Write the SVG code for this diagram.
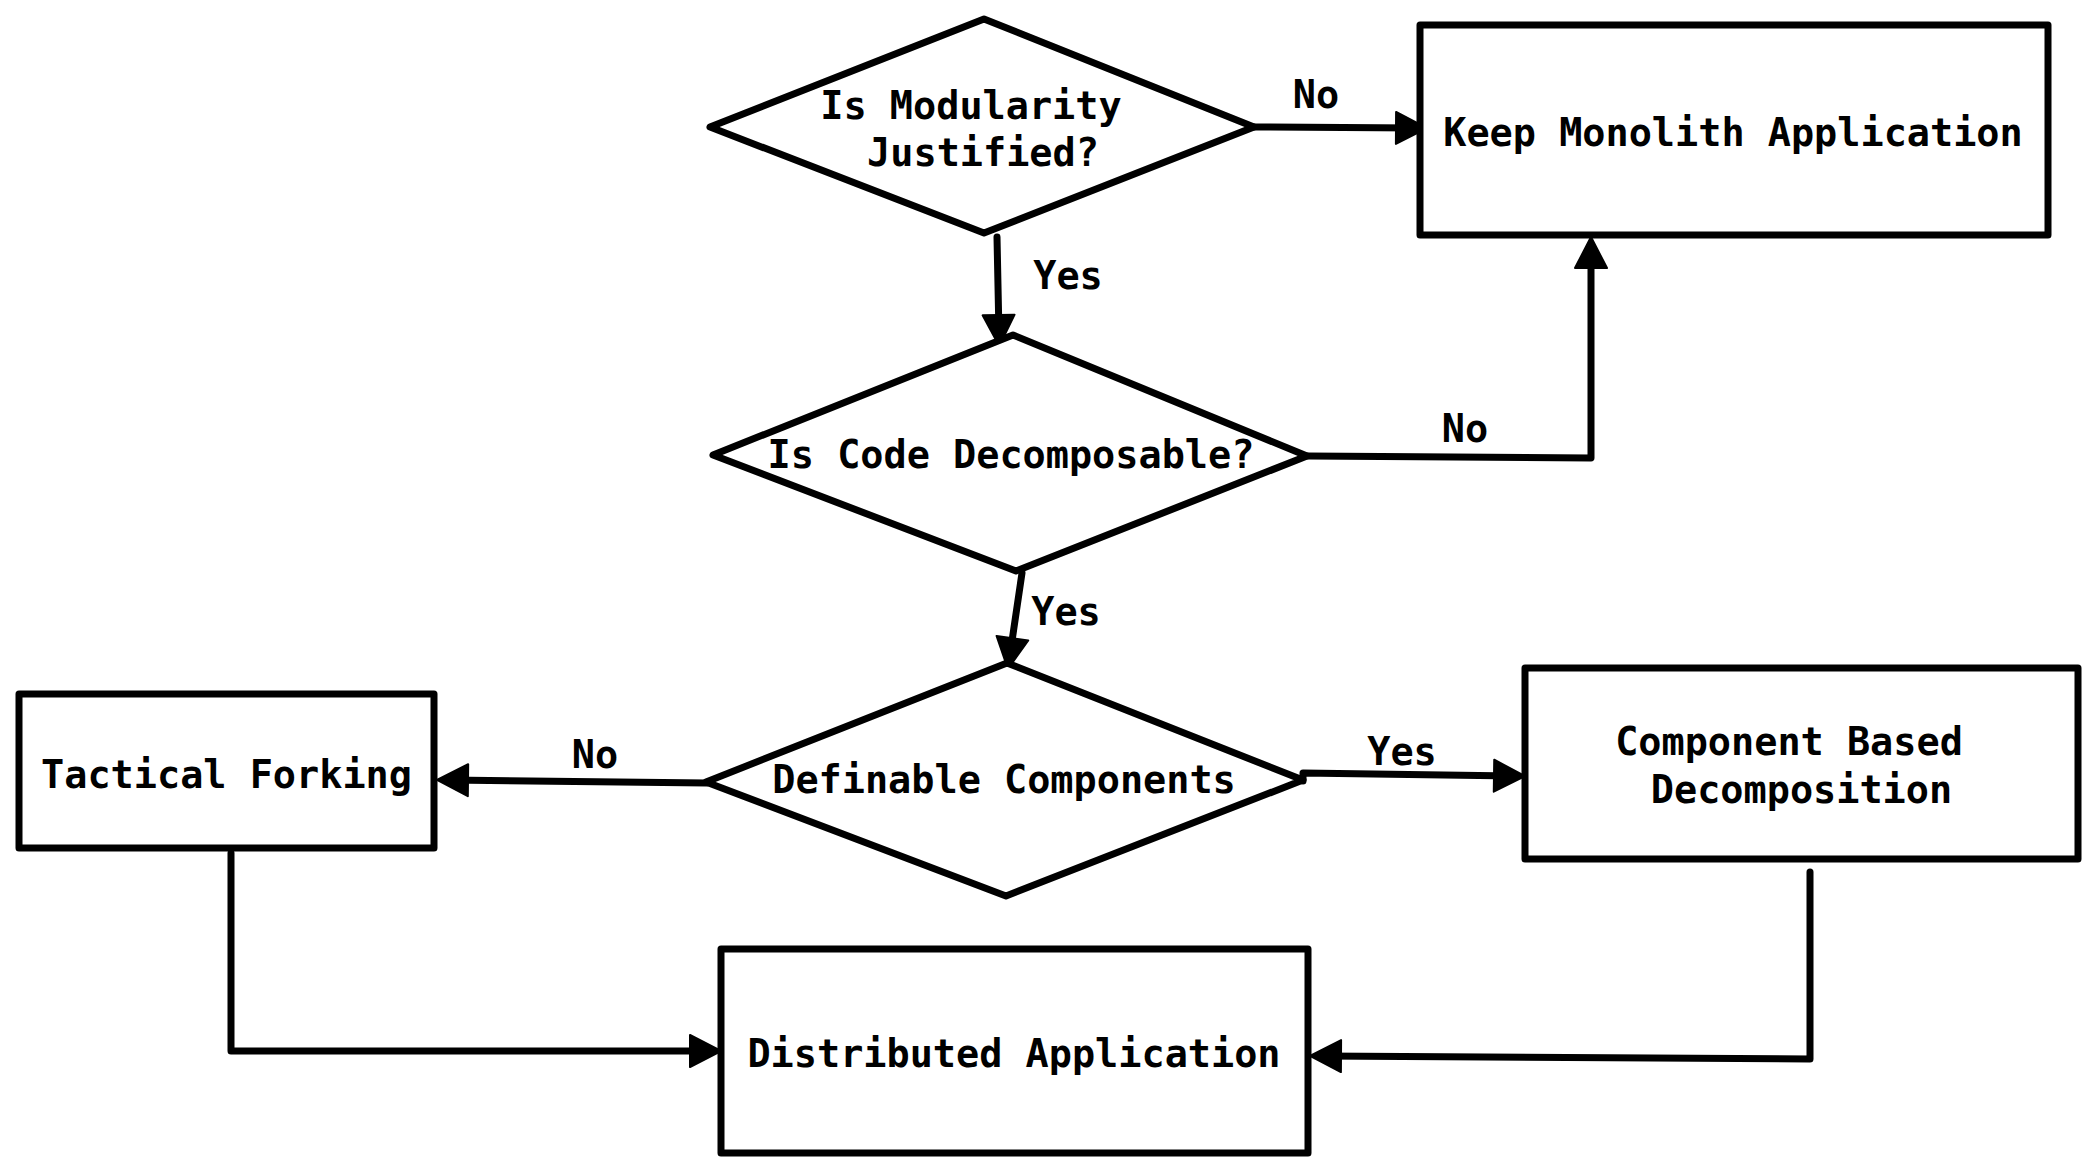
<svg xmlns="http://www.w3.org/2000/svg" width="2097" height="1174" viewBox="0 0 2097 1174">
<style>
.shape{fill:#fff;stroke:#000;stroke-width:7;stroke-linejoin:round}
.conn{fill:none;stroke:#000;stroke-width:7;stroke-linejoin:round;stroke-linecap:round}
text{font-family:"DejaVu Sans Mono","Liberation Mono",monospace;font-weight:bold;font-size:38.5px;fill:#000;text-anchor:middle}
</style>
<defs>
<marker id="ah" markerUnits="userSpaceOnUse" markerWidth="40" markerHeight="40" refX="20" refY="0" orient="auto" overflow="visible">
<path d="M0,-16 L31,0 L0,16 Z" fill="#000" stroke="#000" stroke-width="2" stroke-linejoin="round"/>
</marker>
</defs>
<rect width="2097" height="1174" fill="#fff"/>
<g id="connectors">
<path class="conn" d="M1254 127 L1416 128" marker-end="url(#ah)"/>
<path class="conn" d="M997 237 L999 335" marker-end="url(#ah)"/>
<path class="conn" d="M1308 456 L1591 458 L1591 248" marker-end="url(#ah)"/>
<path class="conn" d="M1022 573 L1009.5 658" marker-end="url(#ah)"/>
<path class="conn" d="M707 783 L448 780" marker-end="url(#ah)"/>
<path class="conn" d="M1303 781 L1303 773 L1514 776" marker-end="url(#ah)"/>
<path class="conn" d="M231 853 L231 1051 L710 1051" marker-end="url(#ah)"/>
<path class="conn" d="M1810 872 L1810 1059 L1321 1056" marker-end="url(#ah)"/>
<text x="1316" y="108">No</text>
<text x="1068" y="289">Yes</text>
<text x="1465" y="442">No</text>
<text x="1066" y="625">Yes</text>
<text x="595" y="768">No</text>
<text x="1402" y="765">Yes</text>
</g>
<g id="modularity">
<polygon class="shape" points="984,19 1254,127 984,233 710,127"/>
<text x="971" y="119">Is Modularity</text>
<text x="983" y="166">Justified?</text>
</g>
<g id="monolith">
<rect class="shape" x="1420" y="25" width="628" height="210"/>
<text x="1733" y="146">Keep Monolith Application</text>
</g>
<g id="decomposable">
<polygon class="shape" points="1013,335 1307,456 1016,571 713,455"/>
<text x="1011" y="468">Is Code Decomposable?</text>
</g>
<g id="definable">
<polygon class="shape" points="1007,663 1303,780 1006,896 706,782"/>
<text x="1004" y="793">Definable Components</text>
</g>
<g id="tactical">
<rect class="shape" x="19" y="694" width="415" height="154"/>
<text x="226.5" y="788">Tactical Forking</text>
</g>
<g id="component">
<rect class="shape" x="1525" y="668" width="553" height="191"/>
<text x="1789" y="755">Component Based</text>
<text x="1801.5" y="803">Decomposition</text>
</g>
<g id="distributed">
<rect class="shape" x="721" y="949" width="587" height="204"/>
<text x="1014" y="1067">Distributed Application</text>
</g>
</svg>
